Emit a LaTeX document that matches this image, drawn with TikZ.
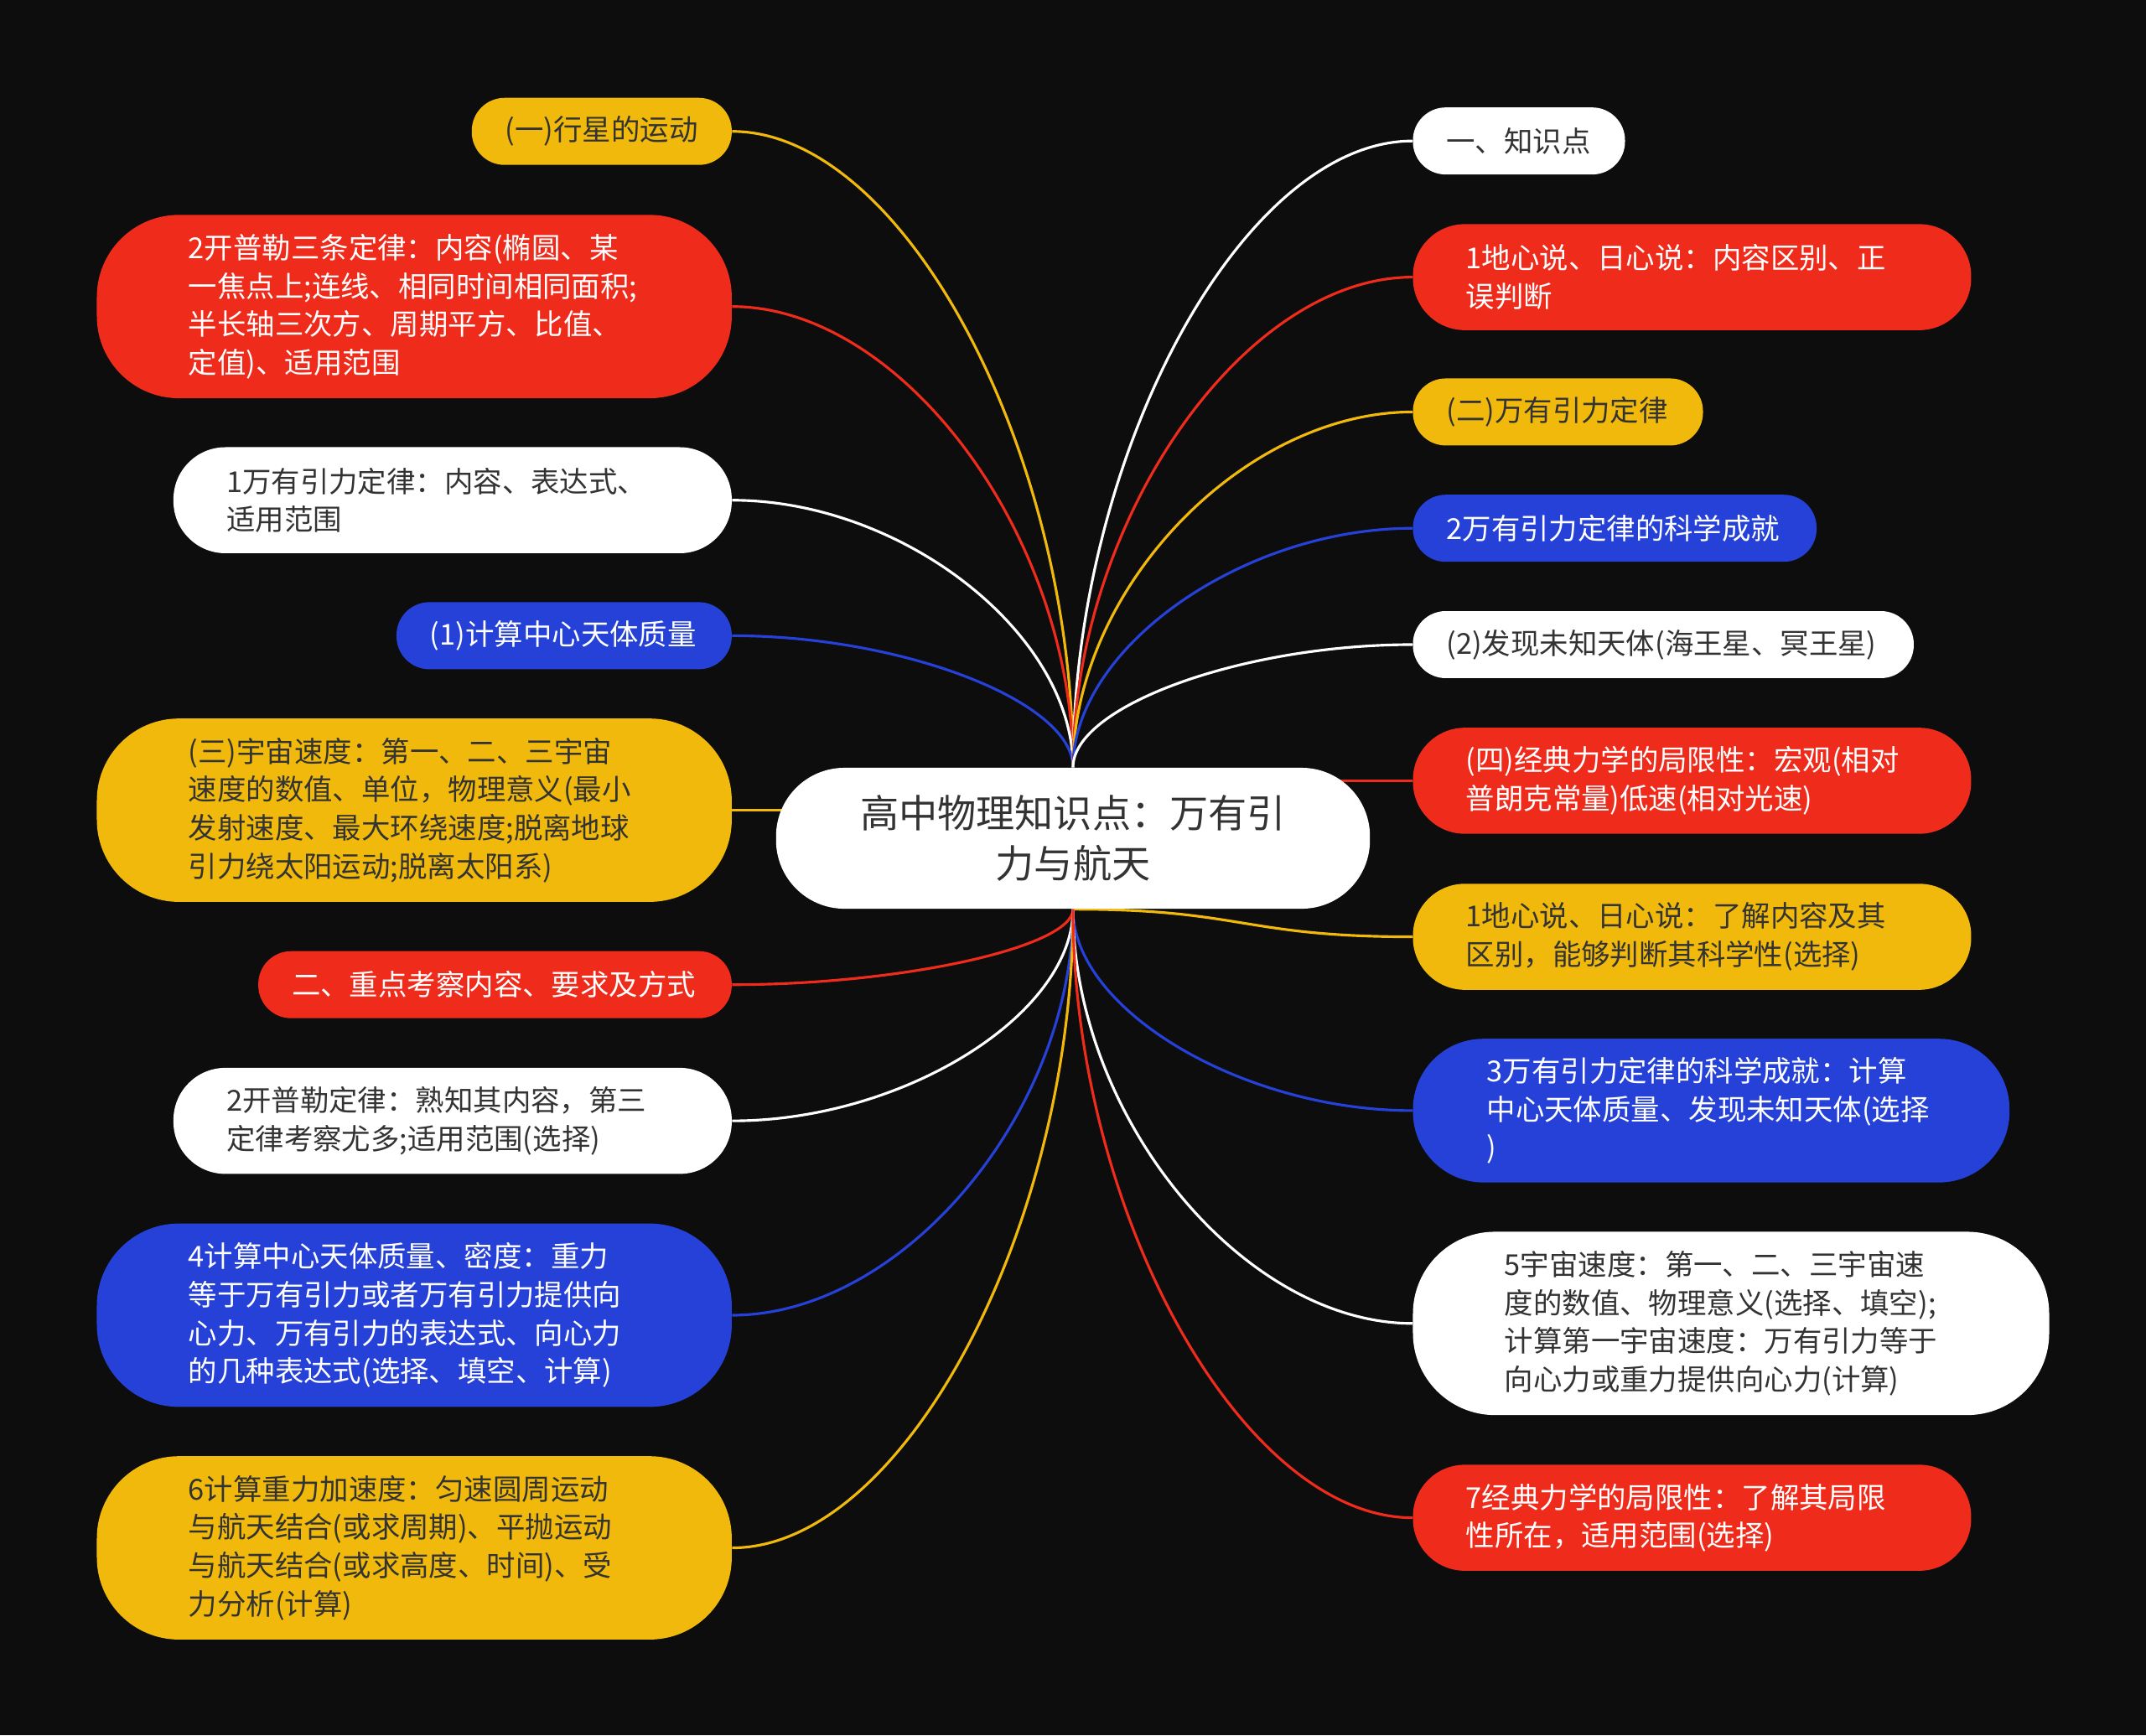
\documentclass[tikz,border=0pt]{standalone}
\usepackage{fontspec}
\setmainfont{Noto Sans CJK SC}
\usetikzlibrary{calc}
\definecolor{bgc}{HTML}{0D0D0D}
\definecolor{mred}{HTML}{EF2B1B}
\definecolor{myel}{HTML}{F0B90C}
\definecolor{mblu}{HTML}{2541D8}
\definecolor{mtxt}{HTML}{333333}
\pgfdeclarelayer{bglayer}
\pgfdeclarelayer{linelayer}
\pgfsetlayers{bglayer,linelayer,main}
\tikzset{
  box/.style={rectangle, inner ysep=0pt, align=left, font=\fontsize{12pt}{15.9pt}\selectfont},
  redb/.style={box, fill=mred, text=white},
  yelb/.style={box, fill=myel, text=mtxt},
  blub/.style={box, fill=mblu, text=white},
  whib/.style={box, fill=white, text=mtxt},
  sa/.style={minimum height=0.98cm, rounded corners=0.48cm, inner xsep=0.49cm},
  sb/.style={minimum height=1.55cm, rounded corners=0.76cm, inner xsep=0.775cm},
  sc/.style={minimum height=2.1cm, rounded corners=1.03cm, inner xsep=1.08cm},
  sd/.style={minimum height=2.68cm, rounded corners=1.2cm, inner xsep=1.34cm},
  tw/.style={text width=#1cm},
  conn/.style={line width=1.1pt},
}
\newcommand\mmconn[3]{\draw[conn,#1] let \p1=(#2), \p2=(#3) in (\p1) .. controls (\x1,{0.5*(\y1+\y2)}) and ({0.5*(\x1+\x2)},\y2) .. (\p2);}
\newcommand\mmside[3]{\draw[conn,#1] let \p1=(#2), \p2=(#3) in (\p1) .. controls ({0.5*(\x1+\x2)},\y1) and ({0.5*(\x1+\x2)},\y2) .. (\p2);}
\begin{document}
\begin{tikzpicture}[x=0.02cm, y=-0.02cm]
\begin{pgfonlayer}{bglayer}
\fill[bgc] (0,0) rectangle (1568,1268);
\end{pgfonlayer}
\useasboundingbox (0,0) rectangle (1568,1268);

% center
\node[whib, inner sep=0pt, minimum width=8.68cm, minimum height=2.06cm, rounded corners=1.0cm, font=\fontsize{16.1pt}{21pt}\selectfont, align=center] (c) at (784,612.5) {高中物理知识点：万有引\\力与航天};

% left column
\node[yelb,sa,tw=2.82,anchor=east] (l1) at (535,96) {(一)行星的运动};
\node[redb,sd,tw=6.6,anchor=east] (l2) at (535,224) {2开普勒三条定律：内容(椭圆、某\\一焦点上;连线、相同时间相同面积;\\半长轴三次方、周期平方、比值、\\定值)、适用范围};
\node[whib,sb,tw=6.61,anchor=east] (l3) at (535,365.5) {1万有引力定律：内容、表达式、\\适用范围};
\node[blub,sa,tw=3.92,anchor=east] (l4) at (535,464.5) {(1)计算中心天体质量};
\node[yelb,sd,tw=6.6,anchor=east] (l5) at (535,592) {(三)宇宙速度：第一、二、三宇宙\\速度的数值、单位，物理意义(最小\\发射速度、最大环绕速度;脱离地球\\引力绕太阳运动;脱离太阳系)};
\node[redb,sa,tw=5.94,anchor=east] (l6) at (535,719.5) {二、重点考察内容、要求及方式};
\node[whib,sb,tw=6.61,anchor=east] (l7) at (535,819) {2开普勒定律：熟知其内容，第三\\定律考察尤多;适用范围(选择)};
\node[blub,sd,tw=6.6,anchor=east] (l8) at (535,961) {4计算中心天体质量、密度：重力\\等于万有引力或者万有引力提供向\\心力、万有引力的表达式、向心力\\的几种表达式(选择、填空、计算)};
\node[yelb,sd,tw=6.6,anchor=east] (l9) at (535,1131) {6计算重力加速度：匀速圆周运动\\与航天结合(或求周期)、平抛运动\\与航天结合(或求高度、时间)、受\\力分析(计算)};

% right column
\node[whib,sa,tw=2.12,anchor=west] (r1) at (1032,103) {一、知识点};
\node[redb,sb,tw=6.61,anchor=west] (r2) at (1032,202.5) {1地心说、日心说：内容区别、正\\误判断};
\node[yelb,sa,tw=3.26,anchor=west] (r3) at (1032,301) {(二)万有引力定律};
\node[blub,sa,tw=4.92,anchor=west] (r4) at (1032,386) {2万有引力定律的科学成就};
\node[whib,sa,tw=6.34,anchor=west] (r5) at (1032,471) {(2)发现未知天体(海王星、冥王星)};
\node[redb,sb,tw=6.61,anchor=west] (r6) at (1032,570.5) {(四)经典力学的局限性：宏观(相对\\普朗克常量)低速(相对光速)};
\node[yelb,sb,tw=6.61,anchor=west] (r7) at (1032,684.5) {1地心说、日心说：了解内容及其\\区别，能够判断其科学性(选择)};
\node[blub,sc,tw=6.56,anchor=west] (r8) at (1032,811.5) {3万有引力定律的科学成就：计算\\中心天体质量、发现未知天体(选择\\)};
\node[whib,sd,tw=6.62,anchor=west] (r9) at (1032,967) {5宇宙速度：第一、二、三宇宙速\\度的数值、物理意义(选择、填空);\\计算第一宇宙速度：万有引力等于\\向心力或重力提供向心力(计算)};
\node[redb,sb,tw=6.61,anchor=west] (r10) at (1032,1109) {7经典力学的局限性：了解其局限\\性所在，适用范围(选择)};

% connectors
\begin{pgfonlayer}{linelayer}
\mmconn{myel}{c.north}{l1.east}
\mmconn{mred}{c.north}{l2.east}
\mmconn{white}{c.north}{l3.east}
\mmconn{mblu}{c.north}{l4.east}
\draw[conn,myel] (c.center |- l5.east) -- (l5.east);
\mmconn{mred}{c.south}{l6.east}
\mmconn{white}{c.south}{l7.east}
\mmconn{mblu}{c.south}{l8.east}
\mmconn{myel}{c.south}{l9.east}
\mmconn{white}{c.north}{r1.west}
\mmconn{mred}{c.north}{r2.west}
\mmconn{myel}{c.north}{r3.west}
\mmconn{mblu}{c.north}{r4.west}
\mmconn{white}{c.north}{r5.west}
\draw[conn,mred] (c.center |- r6.west) -- (r6.west);
\mmside{myel}{c.south}{r7.west}
\mmconn{mblu}{c.south}{r8.west}
\mmconn{white}{c.south}{r9.west}
\mmconn{mred}{c.south}{r10.west}
\end{pgfonlayer}
\end{tikzpicture}
\end{document}
